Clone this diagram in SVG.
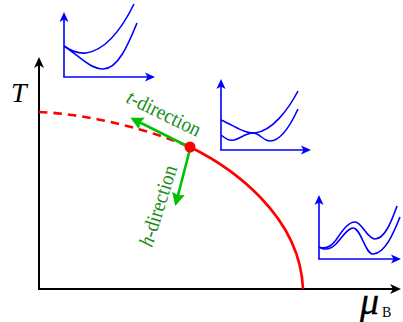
<svg xmlns="http://www.w3.org/2000/svg" width="403" height="322" viewBox="0 0 403 322">
  <style>
    .axis { stroke: #000; stroke-width: 2; fill: none; }
    .baxis { stroke: #0000ff; stroke-width: 1.6; fill: none; }
    .bcurve { stroke: #0000ff; stroke-width: 1.6; fill: none; }
    .red { stroke: #ff0000; stroke-width: 2.6; fill: none; }
    .green { stroke: #00c000; stroke-width: 2.6; fill: none; }
    .lbl { font-family: "Liberation Serif", "Times New Roman", serif; fill: #1a8c1a; font-size: 21px; }
    .math { font-family: "Liberation Serif", "Times New Roman", serif; fill: #000; }
  </style>
  <defs>
    <marker id="blackArrow" markerUnits="userSpaceOnUse" viewBox="-10 -6 14 12" markerWidth="14" markerHeight="12" refX="0" refY="0" orient="auto">
      <path d="M3,0 L-8,-5 L-5,0 L-8,5 Z" fill="#000"/>
    </marker>
    <marker id="blueArrow" markerUnits="userSpaceOnUse" viewBox="-9 -5 12 10" markerWidth="12" markerHeight="10" refX="0" refY="0" orient="auto">
      <path d="M2,0 L-8,-4.5 L-5.5,0 L-8,4.5 Z" fill="#0000ff"/>
    </marker>
    <marker id="greenArrow" markerUnits="userSpaceOnUse" viewBox="-12 -7 16 14" markerWidth="16" markerHeight="14" refX="0" refY="0" orient="auto">
      <path d="M3,0 L-10,-6.5 L-8,0 L-10,6.5 Z" fill="#00c000"/>
    </marker>
  </defs>

  <g id="main-axes">
    <path class="axis" d="M39,289 L39,60" marker-end="url(#blackArrow)"/>
    <path class="axis" d="M38,289 L398,289" marker-end="url(#blackArrow)"/>
    <text class="math" x="11" y="102" font-size="28" font-style="italic">T</text>
    <text class="math" x="360" y="314" font-size="38" font-style="italic" stroke="#000" stroke-width="0.3">μ</text>
    <text class="math" x="382" y="317" font-size="14">B</text>
  </g>

  <g id="phase-boundary">
    <path class="red" d="M39,112 C90,114 150,130 190,147" stroke-dasharray="8.5 6"/>
    <path class="red" d="M190,147 C231,167 300,215 303,289"/>
  </g>

  <g id="connectors">
    <path id="t-arrow" class="green" d="M189,147 L133,119" marker-end="url(#greenArrow)"/>
    <path id="h-arrow" class="green" d="M190,149 L176,203" marker-end="url(#greenArrow)"/>
  </g>

  <g id="critical-point">
    <circle cx="190" cy="147" r="5.5" fill="#ff0000"/>
  </g>

  <g id="t-label">
    <text class="lbl" transform="translate(125,102) rotate(26)" textLength="80" lengthAdjust="spacingAndGlyphs"><tspan font-style="italic">t</tspan>-direction</text>
  </g>
  <g id="h-label">
    <text class="lbl" transform="translate(152,248) rotate(-72.5)" textLength="84" lengthAdjust="spacingAndGlyphs"><tspan font-style="italic">h</tspan>-direction</text>
  </g>

  <g id="inset-top">
    <path class="baxis" d="M64,77 L64,14" marker-end="url(#blueArrow)"/>
    <path class="baxis" d="M63.2,77 L153,77" marker-end="url(#blueArrow)"/>
    <path class="bcurve" d="M64,46 Q75,54 86,53 Q112,49 134,4"/>
    <path class="bcurve" d="M64,46 C78,55 90,69 103,69 C118,69 128,45 137,23"/>
  </g>

  <g id="inset-middle">
    <path class="baxis" d="M221,150 L221,81" marker-end="url(#blueArrow)"/>
    <path class="baxis" d="M220.2,150 L309,150" marker-end="url(#blueArrow)"/>
    <path class="bcurve" d="M221,120 C235,126 245,134 255,133 C272,131 288,110 298,91"/>
    <path class="bcurve" d="M221,135 C226,139 229,141 234,140 C241,138 246,133 253,133 C260,133 263,141 270,141 C282,141 292,122 298,109"/>
  </g>

  <g id="inset-bottom">
    <path class="baxis" d="M319,259 L319,197" marker-end="url(#blueArrow)"/>
    <path class="baxis" d="M318.2,259 L399,259" marker-end="url(#blueArrow)"/>
    <path class="bcurve" d="M319,247 C324,249 330,248 336,240 C344,228 349,222 355,222 C362,222 367,239 375,239 C385,239 392,220 397,206"/>
    <path class="bcurve" d="M319,247 C324,250 330,250 336,244 C343,236 348,228 353,228 C361,228 365,254 373,254 C385,254 394,232 400,217"/>
  </g>
</svg>
